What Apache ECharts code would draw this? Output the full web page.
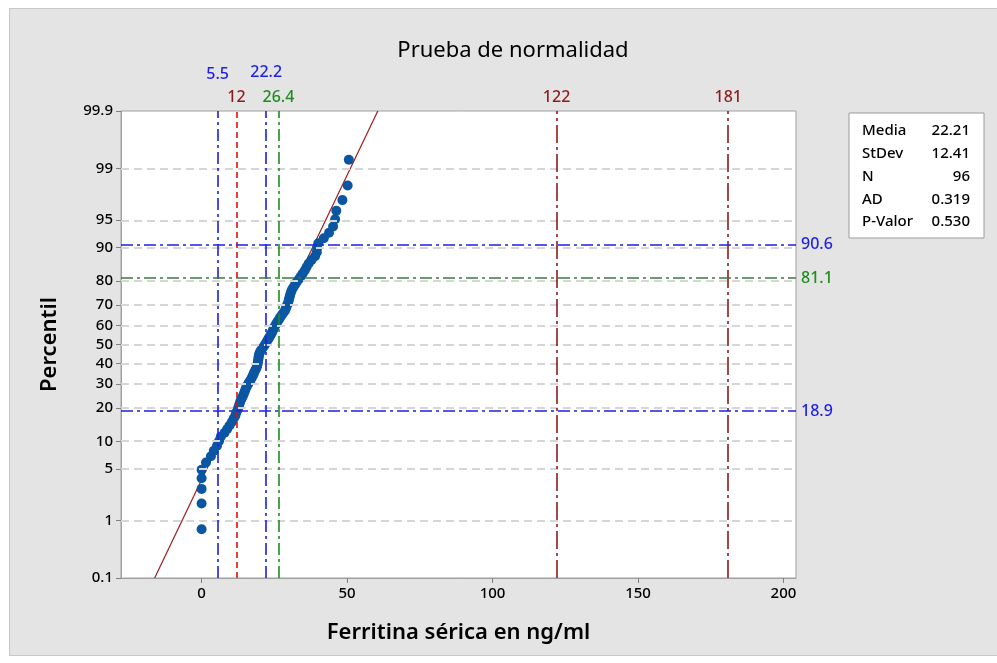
<!DOCTYPE html>
<html><head><meta charset="utf-8">
<script src="https://cdn.jsdelivr.net/npm/echarts@6/dist/echarts.min.js"></script>
<style>
html,body{margin:0;padding:0;background:#fff;}
#wrap{position:relative;width:997px;height:663px;}
#panel{position:absolute;left:9px;top:8px;width:990px;height:648px;background:#e4e4e4;border:1px solid #c8c8c8;box-sizing:border-box;}
#c{position:absolute;left:0;top:0;width:997px;height:663px;}
</style>
</head><body>
<div id="wrap"><div id="panel"></div><div id="c"></div></div>
<script>
// Sorted ferritin values (ng/ml)
const ferritina = [
 0, 0, 0, 0, 0, 1.5, 3.2, 4.2, 5.3, 6.0,
 6.6, 7.9, 8.8, 9.6, 10.4, 11.0, 11.6, 11.9, 12.4, 12.7,
 13.0, 13.3, 13.7, 14.1, 14.5, 14.8, 15.1, 15.4, 15.9, 16.3,
 16.8, 17.2, 17.6, 17.9, 18.2, 18.6, 18.9, 19.1, 19.3, 19.4,
 19.5, 19.6, 19.7, 19.9, 20.2, 20.6, 21.1, 21.6, 22.0, 22.4,
 22.8, 23.2, 23.6, 24.0, 24.3, 24.6, 24.9, 25.3, 25.7, 26.1,
 26.6, 27.0, 27.5, 28.0, 28.6, 28.9, 29.2, 29.5, 29.8, 30.0,
 30.2, 30.4, 30.7, 31.0, 31.5, 32.1, 32.7, 33.4, 34.1, 34.8,
 35.5, 36.1, 36.8, 37.8, 39.0, 39.6, 39.7, 40.1, 42.0, 43.8,
 45.2, 45.9, 46.3, 48.4, 50.2, 50.6
];
const percentTicks = [0.1, 1, 5, 10, 20, 30, 40, 50, 60, 70, 80, 90, 95, 99, 99.9];
const gridPercents = [1, 5, 10, 20, 30, 40, 50, 60, 70, 80, 90, 95, 99];
const xTicks = [0, 50, 100, 150, 200];
const statLabels = ['Media', 'StDev', 'N', 'AD', 'P-Valor'];
const statValues = ['22.21', '12.41', '96', '0.319', '0.530'];
const media = 22.21, stdev = 12.41;
const vLines = [5.5, 12, 22.2, 26.4, 122, 181];
const hLines = [90.6, 81.1, 18.9];

function invNorm(p){
 const a=[-3.969683028665376e+01,2.209460984245205e+02,-2.759285104469687e+02,1.383577518672690e+02,-3.066479806614716e+01,2.506628277459239e+00];
 const b=[-5.447609879822406e+01,1.615858368580409e+02,-1.556989798598866e+02,6.680131188771720e+01,-1.328068155288572e+01];
 const c=[-7.784894002430293e-03,-3.223964580411365e-01,-2.400758277161838e+00,-2.549671064493549e+00,4.374664141464968e+00,2.938163982698783e+00];
 const d=[7.784695709041462e-03,3.224671290700398e-01,2.445134137142996e+00,3.754408661907416e+00];
 const pl=0.02425, ph=1-pl; let q,r;
 if(p<pl){q=Math.sqrt(-2*Math.log(p));return (((((c[0]*q+c[1])*q+c[2])*q+c[3])*q+c[4])*q+c[5])/((((d[0]*q+d[1])*q+d[2])*q+d[3])*q+1);}
 if(p<=ph){q=p-0.5;r=q*q;return (((((a[0]*r+a[1])*r+a[2])*r+a[3])*r+a[4])*r+a[5])*q/(((((b[0]*r+b[1])*r+b[2])*r+b[3])*r+b[4])*r+1);}
 q=Math.sqrt(-2*Math.log(1-p));return -(((((c[0]*q+c[1])*q+c[2])*q+c[3])*q+c[4])*q+c[5])/((((d[0]*q+d[1])*q+d[2])*q+d[3])*q+1);
}
const zOf = pct => invNorm(pct/100);
const n = ferritina.length;
// median-rank plotting positions (Minitab style)
const points = ferritina.map((v,i)=>[v, invNorm((i+1-0.3)/(n+0.4))]);
const zMin = zOf(0.1), zMax = zOf(99.9);
const tickZ = percentTicks.map(zOf);
function pctLabel(val){
  let best=0, bd=1e9;
  tickZ.forEach((z,k)=>{const dd=Math.abs(z-val); if(dd<bd){bd=dd;best=k;}});
  return String(percentTicks[best]);
}
const FONT = 'Noto Sans';
const BLUE='#1f1fe6', GREEN='#1e8c1e', DKRED='#8e1b1b', RED='#e01010', HGREEN='#3d7a3d';
const dashDot=[12,4,3,4];
const vStyles = {
 5.5:{color:BLUE,type:dashDot,lc:BLUE,dist:29},
 12:{color:RED,type:[6,4],lc:DKRED,dist:6},
 22.2:{color:BLUE,type:dashDot,lc:BLUE,dist:31},
 26.4:{color:GREEN,type:dashDot,lc:GREEN,dist:6},
 122:{color:DKRED,type:[18,4,3,4],lc:DKRED,dist:6},
 181:{color:DKRED,type:[18,4,3,4],lc:DKRED,dist:6}
};
const hStyles = {90.6:{color:BLUE,lc:BLUE},81.1:{color:HGREEN,lc:GREEN},18.9:{color:BLUE,lc:BLUE}};

const chart = echarts.init(document.getElementById('c'), null, {renderer:'canvas'});
chart.setOption({
 backgroundColor:'transparent',
 animation:false,
 textStyle:{fontFamily:FONT},
 title:{text:'Prueba de normalidad',left:508,top:35,textAlign:'center',
   textStyle:{fontFamily:FONT,fontSize:22,fontWeight:'normal',color:'#000'}},
 grid:{left:121,right:201,top:111,bottom:85,show:true,backgroundColor:'#fff',borderColor:'#a0a0a0',borderWidth:1},
 xAxis:{type:'value',min:-27.7,max:204.3,
   name:'Ferritina sérica en ng/ml',nameLocation:'middle',nameGap:44,
   nameTextStyle:{fontFamily:FONT,fontSize:22,fontWeight:600,color:'#000'},
   axisLine:{show:true,onZero:false,lineStyle:{color:'#a0a0a0'}},
   axisTick:{show:true,length:5,customValues:xTicks,lineStyle:{color:'#808080'}},
   axisLabel:{customValues:xTicks,fontFamily:FONT,fontSize:15,fontWeight:500,color:'#000',margin:8},
   splitLine:{show:false}},
 yAxis:{type:'value',min:zMin,max:zMax,
   name:'Percentil',nameLocation:'middle',nameGap:60,nameRotate:90,
   nameTextStyle:{fontFamily:FONT,fontSize:22,fontWeight:600,color:'#000'},
   axisLine:{show:true,onZero:false,lineStyle:{color:'#a0a0a0'}},
   axisTick:{show:true,length:5,customValues:tickZ,lineStyle:{color:'#808080'}},
   axisLabel:{customValues:tickZ,formatter:v=>pctLabel(v),fontFamily:FONT,fontSize:15,fontWeight:500,color:'#000',margin:8},
   splitLine:{show:false}},
 series:[
  {type:'line',data:[],z:1,silent:true,
   markLine:{silent:true,symbol:'none',animation:false,
     label:{show:false},
     lineStyle:{color:'#d6d6d6',type:[8,5],width:2},
     data:gridPercents.map(p=>({yAxis:zOf(p)}))}},
  {type:'line',data:[],z:2,silent:true,
   markLine:{silent:true,symbol:'none',animation:false,
     data:vLines.map(v=>({xAxis:v,
        lineStyle:{color:vStyles[v].color,type:vStyles[v].type,width:1.6},
        label:{show:true,position:'end',formatter:String(v),color:vStyles[v].lc,fontFamily:FONT,fontSize:16,fontWeight:500,distance:vStyles[v].dist}}))
       .concat(hLines.map(h=>({yAxis:zOf(h),
        lineStyle:{color:hStyles[h].color,type:dashDot,width:1.6},
        label:{show:true,position:'end',formatter:String(h),color:hStyles[h].lc,fontFamily:FONT,fontSize:16,fontWeight:500,distance:5}})))}},
  {type:'line',z:3,symbol:'none',silent:true,clip:true,
   lineStyle:{color:'#a01c1c',width:1.2},
   data:[[media+stdev*zMin,zMin],[media+stdev*zMax,zMax]]},
  {type:'scatter',z:4,symbol:'circle',symbolSize:10,
   itemStyle:{color:'#0b56a3',opacity:1},
   data:points}
 ],
 graphic:[
  {type:'rect',shape:{x:849,y:113,width:135,height:125},style:{fill:'#fff',stroke:'#9a9a9a',lineWidth:1},z:10},
  ...statLabels.map((t,k)=>({type:'text',x:862,y:131+k*22.8,z:11,
     style:{text:t,fill:'#000',font:'500 15px "Noto Sans"',textAlign:'left',textVerticalAlign:'middle'}})),
  ...statValues.map((t,k)=>({type:'text',x:970,y:131+k*22.8,z:11,
     style:{text:t,fill:'#000',font:'500 15px "Noto Sans"',textAlign:'right',textVerticalAlign:'middle'}}))
 ]
});
</script>
</body></html>
